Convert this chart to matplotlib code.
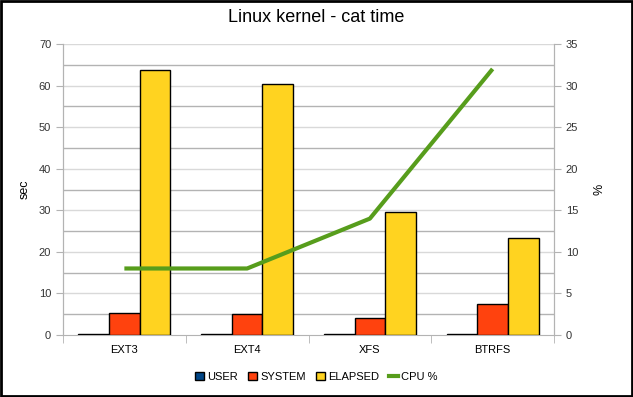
import matplotlib
matplotlib.use("Agg")
import matplotlib.pyplot as plt
import numpy as np
from matplotlib.patches import Patch
from matplotlib.lines import Line2D

plt.rcParams['font.family'] = ['Liberation Sans', 'DejaVu Sans']

categories = ["EXT3", "EXT4", "XFS", "BTRFS"]
user = [0.15, 0.15, 0.15, 0.15]
system = [5.3, 5.05, 4.1, 7.5]
elapsed = [63.7, 60.3, 29.5, 23.3]
cpu = [8, 8, 14, 32]

c_user = "#004586"
c_sys = "#ff420e"
c_ela = "#ffd320"
c_cpu = "#579d1c"

fig = plt.figure(figsize=(6.33, 3.97), dpi=100)
ax = fig.add_axes([63/633, 1-335/397, (554-63)/633, (335-44)/397])
ax2 = ax.twinx()

x = np.arange(len(categories))
w = 0.25
ax.bar(x - w, user, w, color=c_user, edgecolor="black", linewidth=1, zorder=3)
ax.bar(x, system, w, color=c_sys, edgecolor="black", linewidth=1, zorder=3)
ax.bar(x + w, elapsed, w, color=c_ela, edgecolor="black", linewidth=1, zorder=3)

ax.set_xlim(-0.5, len(categories) - 0.5)
ax.set_ylim(0, 70)
ax2.set_ylim(0, 35)
ax2.plot(x, cpu, color=c_cpu, linewidth=3, zorder=4, solid_capstyle="butt")

# gridlines
for v in range(5, 71, 5):
    col = "#d9d9d9" if v % 10 == 0 else "#b3b3b3"
    ax.axhline(v, color=col, linewidth=1, zorder=1)

ax.set_yticks(range(0, 71, 10))
ax2.set_yticks(range(0, 36, 5))
ax.set_xticks(x)
ax.set_xticklabels(categories)
ax.set_xticks(np.arange(-0.5, len(categories), 1.0), minor=True)
ax.tick_params(axis="x", which="major", length=0, pad=7, labelsize=8)
ax.tick_params(axis="x", which="minor", length=6, color="#b3b3b3", direction="out")
ax.tick_params(axis="y", length=5, color="#b3b3b3", labelsize=8, colors="#333333")
ax2.tick_params(axis="y", length=5, color="#b3b3b3", labelsize=8, colors="#333333")
ax.tick_params(axis="x", colors="black", labelcolor="black")
ax.tick_params(axis="x", which="minor", color="#b3b3b3")

for a in (ax, ax2):
    a.spines["top"].set_visible(False)
    a.spines["left"].set_color("#b3b3b3")
    a.spines["right"].set_color("#b3b3b3")
    a.spines["bottom"].set_color("#b3b3b3")
ax2.spines["bottom"].set_visible(False)
ax.set_zorder(ax2.get_zorder() - 1)
ax2.patch.set_visible(False)

ax.set_ylabel("sec", fontsize=9, labelpad=6)
ax2.set_ylabel("%", fontsize=9, labelpad=11)
fig.text(0.5, 1 - 18/397, "Linux kernel - cat time", ha="center", va="center", fontsize=13)

handles = [Patch(facecolor=c_user, edgecolor="black", label="USER"),
           Patch(facecolor=c_sys, edgecolor="black", label="SYSTEM"),
           Patch(facecolor=c_ela, edgecolor="black", label="ELAPSED"),
           Line2D([0], [0], color=c_cpu, linewidth=3, label="CPU %")]
fig.legend(handles=handles, loc="center", bbox_to_anchor=(0.5, 1 - 377/397), ncol=4,
           frameon=False, fontsize=8, handlelength=0.8, handleheight=0.8,
           handletextpad=0.3, columnspacing=0.9)

# outer border
fig.patches.append(plt.Rectangle((0.002, 0.003), 0.996, 0.994, transform=fig.transFigure,
                                 fill=False, edgecolor="black", linewidth=2))

fig.savefig("out.png", dpi=100)
